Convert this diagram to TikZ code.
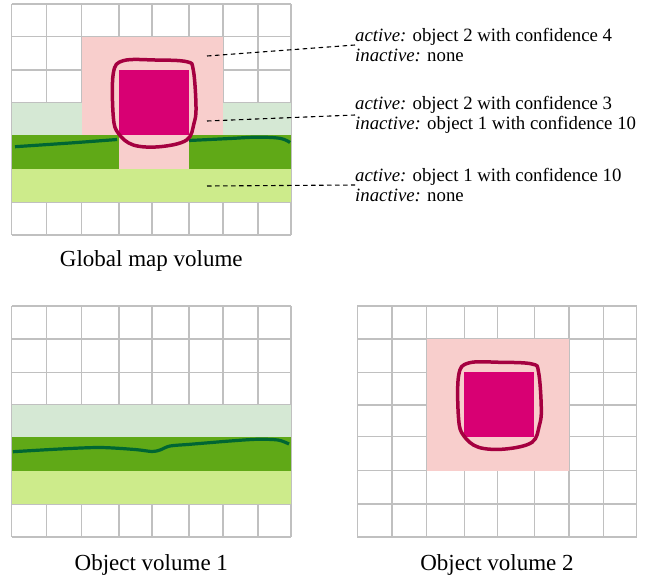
\documentclass[tikz,border=0pt]{standalone}
\usepackage{fontspec}
\setmainfont{Liberation Serif}
\definecolor{pinkfill}{HTML}{F8CECC}
\definecolor{magfill}{HTML}{D80073}
\definecolor{magline}{HTML}{A50040}
\definecolor{lightgreen}{HTML}{D5E8D4}
\definecolor{darkgreen}{HTML}{60A917}
\definecolor{limegreen}{HTML}{CDEB8B}
\definecolor{curvegreen}{HTML}{006633}
\definecolor{gridgray}{HTML}{C0C0C0}
\tikzset{
  gridline/.style={draw=gridgray, line width=1.4pt},
  leader/.style={draw=black, line width=1.1pt, dash pattern=on 4.5pt off 3.5pt},
  annot/.style={anchor=west, align=left, inner sep=0pt, font=\fontsize{18.8}{20}\selectfont},
  caption/.style={anchor=base, inner sep=0pt, font=\fontsize{23}{25}\selectfont},
  outline/.style={draw=magline, line width=3.5pt},
  greencurve/.style={draw=curvegreen, line width=3.2pt},
}
\newcommand{\objoutline}{%
  \draw[outline] plot[smooth cycle, tension=0.6] coordinates {(-5.7,3.3) (4.3,-9.3) (36,-10) (67.7,-8.3) (74.3,0) (77,36.7) (75,53.3) (67.7,70) (41,76.7) (14.3,75) (-0.7,63.3) (-5.7,46.7)};}
\begin{document}
\begin{tikzpicture}[x=1pt,y=-1pt]
\useasboundingbox (0,0) rectangle (658,576);
\fill[white] (0,0) rectangle (658,576);

% ---------- Global map volume ----------
\foreach \x in {11.7,46.7,81.7,119,152,189,223,258,291}
  \draw[gridline] (\x,4) -- (\x,235);
\foreach \y in {4,36.7,70,103,135,169,202,235}
  \draw[gridline] (11.7,\y) -- (291,\y);
\fill[lightgreen] (11.7,103) rectangle (291,135);
\fill[darkgreen] (11.7,135) rectangle (291,169);
\fill[limegreen] (11.7,169) rectangle (291,202);
\fill[pinkfill] (81.7,36.7) rectangle (223,135);
\fill[pinkfill] (119,135) rectangle (189,169);
\fill[magfill] (119,70) rectangle (189,135);
\draw[greencurve] plot[smooth, tension=0.5] coordinates {(15,146.7) (70,143) (117,139.5)};
\draw[greencurve] plot[smooth, tension=0.6] coordinates {(189,140.5) (230,138.5) (257,137.2) (280,138.3) (290,142.5)};
\begin{scope}[shift={(119,70)}]\objoutline\end{scope}

\coordinate (l1) at (207,56);
\coordinate (l2) at (207,121);
\coordinate (l3) at (207,186);
\node[annot] (t1) at (355,45) {\textit{active:} object 2 with confidence 4\\\textit{inactive:} none};
\node[annot] (t2) at (355,115) {\textit{active:} object 2 with confidence 3\\\textit{inactive:} object 1 with confidence 10};
\node[annot] (t3) at (355,185) {\textit{active:} object 1 with confidence 10\\\textit{inactive:} none};
\draw[leader] (l1) -- (t1.west);
\draw[leader] (l2) -- (t2.west);
\draw[leader] (l3) -- (t3.west);

\node[caption] (cap0) at (151.3,266) {Global map volume};

% ---------- Object volume 1 ----------
\foreach \x in {11.7,46.7,81.7,119,152,189,223,258,291}
  \draw[gridline] (\x,306) -- (\x,537);
\foreach \y in {306,339,372.3,405,436.7,470.7,504,537}
  \draw[gridline] (11.7,\y) -- (291,\y);
\fill[lightgreen] (11.7,405) rectangle (291,436.7);
\fill[darkgreen] (11.7,436.7) rectangle (291,470.7);
\fill[limegreen] (11.7,470.7) rectangle (291,504);
\draw[greencurve] plot[smooth, tension=0.5] coordinates {(13,451.7) (60,449) (100,447.5) (135,449.5) (152,451.5) (160,450) (170,446) (190,444.3) (230,441) (257,439.3) (278,440) (289,444)};
\node[caption] (cap1) at (151.3,570) {Object volume 1};

% ---------- Object volume 2 ----------
\foreach \x in {357.3,392,426.7,464.3,497.7,534.3,569,603.3,636.7}
  \draw[gridline] (\x,306) -- (\x,537);
\foreach \y in {306,339,372.3,405,436.7,470.7,504,537}
  \draw[gridline] (357.3,\y) -- (636.7,\y);
\fill[pinkfill] (426.7,339) rectangle (569,470.7);
\fill[magfill] (464.3,372.3) rectangle (534.3,436.7);
\begin{scope}[shift={(464.3,372.3)}]\objoutline\end{scope}
\node[caption] (cap2) at (497,570) {Object volume 2};
\end{tikzpicture}
\end{document}
